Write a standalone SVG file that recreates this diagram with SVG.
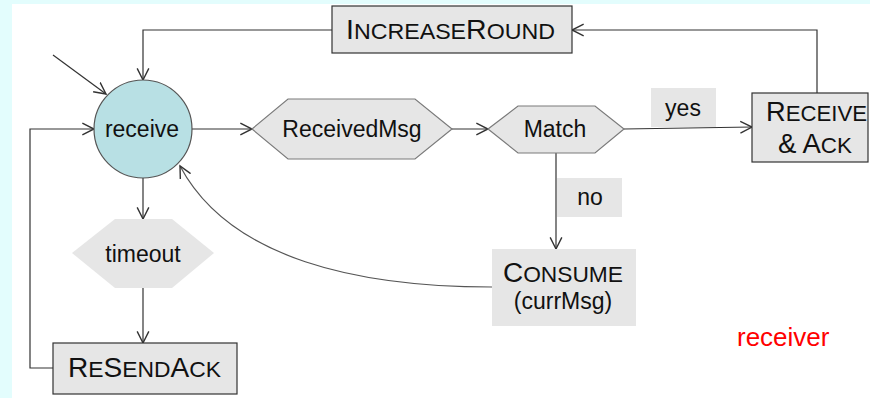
<svg xmlns="http://www.w3.org/2000/svg" width="870" height="398" viewBox="0 0 870 398">
  <style>
    text { font-family: "Liberation Sans", Arial, sans-serif; fill: #111; }
    .t { font-size: 23px; }
    .cap { font-size: 27px; }
    .sc { font-size: 22px; }
    .box { fill: #e6e6e6; stroke: #333; stroke-width: 1.2; }
    .plain { fill: #e6e6e6; stroke: none; }
    .hex { fill: #e6e6e6; stroke: #7a7a7a; stroke-width: 1.2; }
    .edge { fill: none; stroke: #333; stroke-width: 1.2; }
    .soft { fill: none; stroke: #555; stroke-width: 1.2; }
  </style>
  <defs>
    <marker id="arrow" markerUnits="userSpaceOnUse" markerWidth="14" markerHeight="14" refX="10" refY="5" orient="auto" viewBox="0 0 12 10">
      <path d="M0,0 L10,5 L0,10" fill="none" stroke="#333" stroke-width="1.2"/>
    </marker>
  </defs>

  <!-- page -->
  <rect x="0" y="0" width="870" height="398" fill="#e3fdfd"/>
  <rect x="12" y="4" width="858" height="394" fill="#ffffff"/>

  <!-- connectors -->
  <g id="connectors">
    <path class="edge" d="M53,55 L106,94" marker-end="url(#arrow)"/>
    <path class="edge" d="M332,30 H143 V80" marker-end="url(#arrow)"/>
    <path class="edge" d="M817,93 V30 H572" marker-end="url(#arrow)"/>
    <path class="edge" d="M53,368 H30 V129 H94" marker-end="url(#arrow)"/>
    <path class="edge" d="M192,129 H252" marker-end="url(#arrow)"/>
    <path class="edge" d="M452,129 H488" marker-end="url(#arrow)"/>
    <path class="edge" d="M624,129 L752,127" marker-end="url(#arrow)"/>
    <path class="edge" d="M556,153 V249" marker-end="url(#arrow)"/>
    <path class="edge" d="M143,178 V219" marker-end="url(#arrow)"/>
    <path class="edge" d="M143,288 V343" marker-end="url(#arrow)"/>
    <path class="soft" d="M492,287 C360,287 230,260 180,166" marker-end="url(#arrow)"/>
  </g>

  <!-- state: receive -->
  <g id="receive">
    <circle cx="143" cy="129" r="49" fill="#b8e0e4" stroke="#555" stroke-width="1.2"/>
    <text class="t" x="142" y="137" text-anchor="middle">receive</text>
  </g>

  <g id="increase-round">
    <rect class="box" x="332" y="6" width="240" height="47"/>
    <text x="346" y="39" textLength="209" lengthAdjust="spacingAndGlyphs"><tspan class="cap">I</tspan><tspan class="sc">NCREASE</tspan><tspan class="cap">R</tspan><tspan class="sc">OUND</tspan></text>
  </g>

  <g id="received-msg">
    <polygon class="hex" points="252,129 288,99 415,99 452,129 415,159 288,159"/>
    <text class="t" x="352" y="137" text-anchor="middle">ReceivedMsg</text>
  </g>

  <g id="match">
    <polygon class="hex" points="488,129 518,106 595,106 624,129 595,153 518,153"/>
    <text class="t" x="555" y="137" text-anchor="middle">Match</text>
  </g>

  <g id="receive-ack">
    <rect class="box" x="752" y="93" width="116" height="69"/>
    <text x="766" y="121" textLength="101" lengthAdjust="spacingAndGlyphs"><tspan class="cap">R</tspan><tspan class="sc">ECEIVE</tspan></text>
    <text x="778" y="153" textLength="74" lengthAdjust="spacingAndGlyphs"><tspan class="cap">&amp; A</tspan><tspan class="sc">CK</tspan></text>
  </g>

  <g id="label-yes">
    <rect class="plain" x="651" y="88" width="65" height="39"/>
    <text class="t" x="683" y="116" text-anchor="middle">yes</text>
  </g>

  <g id="label-no">
    <rect class="plain" x="557" y="178" width="65" height="39"/>
    <text class="t" x="590" y="205" text-anchor="middle">no</text>
  </g>

  <g id="consume">
    <rect class="plain" x="492" y="249" width="144" height="77"/>
    <text x="503" y="282" textLength="120" lengthAdjust="spacingAndGlyphs"><tspan class="cap">C</tspan><tspan class="sc">ONSUME</tspan></text>
    <text class="t" x="563" y="309" text-anchor="middle">(currMsg)</text>
  </g>

  <g id="timeout">
    <polygon class="plain" points="72,253 115,219 172,219 214,253 172,288 115,288"/>
    <text class="t" x="143" y="262" text-anchor="middle">timeout</text>
  </g>

  <g id="resend-ack">
    <rect class="box" x="53" y="343" width="184" height="51"/>
    <text x="68" y="377" textLength="153" lengthAdjust="spacingAndGlyphs"><tspan class="cap">R</tspan><tspan class="sc">E</tspan><tspan class="cap">S</tspan><tspan class="sc">END</tspan><tspan class="cap">A</tspan><tspan class="sc">CK</tspan></text>
  </g>

  <g id="caption">
    <text x="737" y="346" font-size="26" style="fill:#ff0000">receiver</text>
  </g>
</svg>
